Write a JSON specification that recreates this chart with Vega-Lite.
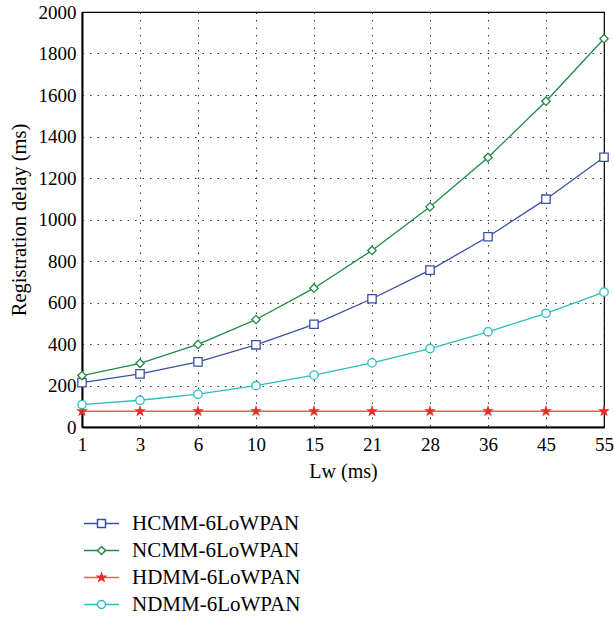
{
  "$schema": "https://vega.github.io/schema/vega-lite/v6.json",
  "width": 522,
  "height": 415,
  "autosize": "none",
  "padding": {"left": 82, "top": 12, "right": 10, "bottom": 192},
  "background": "white",
  "config": {
    "font": "Times New Roman",
    "view": {"stroke": "black", "strokeWidth": 1.2},
    "axis": {
      "labelFont": "Times New Roman", "labelFontSize": 19, "labelColor": "black",
      "titleFont": "Times New Roman", "titleFontSize": 20, "titleFontWeight": "normal", "titleColor": "black",
      "domainColor": "black", "domainWidth": 2,
      "ticks": false,
      "gridColor": "black", "gridDash": [1.5, 6], "gridWidth": 1, "gridOpacity": 0.8
    },
    "legend": {"labelFont": "Times New Roman", "labelFontSize": 21, "labelColor": "black", "padding": 0, "labelLimit": 400}
  },
  "data": {"values": [
    {"Lw": "1", "scheme": "HCMM-6LoWPAN", "delay": 214},
    {"Lw": "3", "scheme": "HCMM-6LoWPAN", "delay": 256},
    {"Lw": "6", "scheme": "HCMM-6LoWPAN", "delay": 314},
    {"Lw": "10", "scheme": "HCMM-6LoWPAN", "delay": 396},
    {"Lw": "15", "scheme": "HCMM-6LoWPAN", "delay": 495},
    {"Lw": "21", "scheme": "HCMM-6LoWPAN", "delay": 618},
    {"Lw": "28", "scheme": "HCMM-6LoWPAN", "delay": 756},
    {"Lw": "36", "scheme": "HCMM-6LoWPAN", "delay": 917},
    {"Lw": "45", "scheme": "HCMM-6LoWPAN", "delay": 1098},
    {"Lw": "55", "scheme": "HCMM-6LoWPAN", "delay": 1300},
    {"Lw": "1", "scheme": "NCMM-6LoWPAN", "delay": 248},
    {"Lw": "3", "scheme": "NCMM-6LoWPAN", "delay": 307},
    {"Lw": "6", "scheme": "NCMM-6LoWPAN", "delay": 398},
    {"Lw": "10", "scheme": "NCMM-6LoWPAN", "delay": 518},
    {"Lw": "15", "scheme": "NCMM-6LoWPAN", "delay": 669},
    {"Lw": "21", "scheme": "NCMM-6LoWPAN", "delay": 851},
    {"Lw": "28", "scheme": "NCMM-6LoWPAN", "delay": 1061},
    {"Lw": "36", "scheme": "NCMM-6LoWPAN", "delay": 1299},
    {"Lw": "45", "scheme": "NCMM-6LoWPAN", "delay": 1570},
    {"Lw": "55", "scheme": "NCMM-6LoWPAN", "delay": 1871},
    {"Lw": "1", "scheme": "HDMM-6LoWPAN", "delay": 76},
    {"Lw": "3", "scheme": "HDMM-6LoWPAN", "delay": 76},
    {"Lw": "6", "scheme": "HDMM-6LoWPAN", "delay": 76},
    {"Lw": "10", "scheme": "HDMM-6LoWPAN", "delay": 76},
    {"Lw": "15", "scheme": "HDMM-6LoWPAN", "delay": 76},
    {"Lw": "21", "scheme": "HDMM-6LoWPAN", "delay": 76},
    {"Lw": "28", "scheme": "HDMM-6LoWPAN", "delay": 76},
    {"Lw": "36", "scheme": "HDMM-6LoWPAN", "delay": 76},
    {"Lw": "45", "scheme": "HDMM-6LoWPAN", "delay": 76},
    {"Lw": "55", "scheme": "HDMM-6LoWPAN", "delay": 76},
    {"Lw": "1", "scheme": "NDMM-6LoWPAN", "delay": 108},
    {"Lw": "3", "scheme": "NDMM-6LoWPAN", "delay": 129},
    {"Lw": "6", "scheme": "NDMM-6LoWPAN", "delay": 158},
    {"Lw": "10", "scheme": "NDMM-6LoWPAN", "delay": 199},
    {"Lw": "15", "scheme": "NDMM-6LoWPAN", "delay": 250},
    {"Lw": "21", "scheme": "NDMM-6LoWPAN", "delay": 309},
    {"Lw": "28", "scheme": "NDMM-6LoWPAN", "delay": 378},
    {"Lw": "36", "scheme": "NDMM-6LoWPAN", "delay": 459},
    {"Lw": "45", "scheme": "NDMM-6LoWPAN", "delay": 548},
    {"Lw": "55", "scheme": "NDMM-6LoWPAN", "delay": 650}
  ]},
  "encoding": {
    "x": {
      "field": "Lw", "type": "ordinal",
      "sort": ["1", "3", "6", "10", "15", "21", "28", "36", "45", "55"],
      "scale": {"type": "point", "padding": 0},
      "axis": {"title": "Lw (ms)", "labelAngle": 0, "labelPadding": 8, "titlePadding": 7, "grid": true}
    },
    "y": {
      "field": "delay", "type": "quantitative",
      "scale": {"domain": [0, 2000], "nice": false},
      "axis": {"title": "Registration delay (ms)", "titleFontSize": 20.5, "format": "d", "values": [0,200,400,600,800,1000,1200,1400,1600,1800,2000], "labelPadding": 6, "titlePadding": 9, "grid": true}
    }
  },
  "layer": [
    {
      "mark": {"type": "line", "strokeWidth": 1.3},
      "encoding": {
        "color": {
          "field": "scheme", "type": "nominal",
          "sort": ["HCMM-6LoWPAN", "NCMM-6LoWPAN", "HDMM-6LoWPAN", "NDMM-6LoWPAN"],
          "scale": {"range": ["#3a50a5", "#1e8a45", "#f25a5a", "#2bbdbd"]},
          "legend": {"orient": "none", "legendX": 9, "legendY": 501, "title": null,
                     "symbolType": "M-4.375,0H4.375", "symbolSize": 64, "symbolStrokeWidth": 1.5,
                     "labelOffset": 20, "rowPadding": 5}
        }
      }
    },
    {
      "mark": {"type": "point", "size": 70, "strokeWidth": 1.3, "opacity": 1},
      "encoding": {
        "stroke": {
          "field": "scheme", "type": "nominal",
          "scale": {"domain": ["HCMM-6LoWPAN", "NCMM-6LoWPAN", "HDMM-6LoWPAN", "NDMM-6LoWPAN"],
                    "range": ["#3a50a5", "#1e8a45", "#ee2a2a", "#2bbdbd"]},
          "legend": {"orient": "none", "legendX": 9, "legendY": 501, "title": null,
                     "symbolSize": 64, "labelOpacity": 0, "labelOffset": 20, "rowPadding": 5}
        },
        "fill": {
          "field": "scheme", "type": "nominal",
          "scale": {"domain": ["HCMM-6LoWPAN", "NCMM-6LoWPAN", "HDMM-6LoWPAN", "NDMM-6LoWPAN"],
                    "range": ["white", "white", "#ee2a2a", "white"]},
          "legend": {"orient": "none", "legendX": 9, "legendY": 501, "title": null,
                     "symbolSize": 64, "labelOpacity": 0, "labelOffset": 20, "rowPadding": 5}
        },
        "shape": {
          "field": "scheme", "type": "nominal",
          "scale": {"domain": ["HCMM-6LoWPAN", "NCMM-6LoWPAN", "HDMM-6LoWPAN", "NDMM-6LoWPAN"],
                    "range": ["square", "diamond", "M0,-1L0.235,-0.324L0.951,-0.309L0.38,0.124L0.588,0.809L0,0.4L-0.588,0.809L-0.38,0.124L-0.951,-0.309L-0.235,-0.324Z", "circle"]},
          "legend": {"orient": "none", "legendX": 9, "legendY": 501, "title": null,
                     "symbolSize": 64, "labelOpacity": 0, "labelOffset": 20, "rowPadding": 5}
        }
      }
    }
  ]
}
